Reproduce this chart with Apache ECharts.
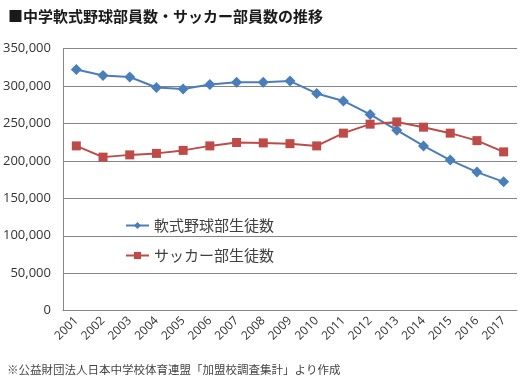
<!DOCTYPE html>
<html><head><meta charset="utf-8">
<script src="https://cdn.jsdelivr.net/npm/echarts@6/dist/echarts.min.js"></script>
<style>html,body{margin:0;padding:0;background:#fff;}#c{width:526px;height:381px;}</style>
</head><body><div id="c"></div>
<script>
const years = ['2001','2002','2003','2004','2005','2006','2007','2008','2009','2010','2011','2012','2013','2014','2015','2016','2017'];
const baseball = [322000,314000,312000,298000,296000,302000,305000,305000,306500,290000,280000,262000,241000,220000,201000,185000,172000];
const soccer = [220000,205000,208000,210000,214000,220000,224500,224000,223000,220000,237000,249000,252000,245000,237000,227000,212000];
const seriesNames = ['軟式野球部生徒数','サッカー部生徒数'];
const titleText = '■中学軟式野球部員数・サッカー部員数の推移';
const noteText = '※公益財団法人日本中学校体育連盟「加盟校調査集計」より作成';

const chart = echarts.init(document.getElementById('c'), null, {renderer:'canvas'});
const ff = '"Noto Sans CJK JP","Noto Sans",sans-serif';
chart.setOption({
  animation:false,
  textStyle:{fontFamily:ff},
  title:[
    {text:titleText,left:3,top:4,textStyle:{fontSize:15,fontWeight:'bold',color:'#1a1a1a',fontFamily:ff}},
    {text:noteText,left:2,top:359,textStyle:{fontSize:11.5,fontWeight:'normal',color:'#444',fontFamily:ff}}
  ],
  grid:{left:62,right:9,top:48.5,bottom:70.3,containLabel:false},
  legend:{
    orient:'vertical',left:120,top:213,itemGap:15,itemWidth:23,itemHeight:9,
    textStyle:{fontSize:15,color:'#404040',fontFamily:ff},
    data:seriesNames
  },
  xAxis:{
    type:'category',data:years,boundaryGap:true,
    axisLine:{lineStyle:{color:'#868686'}},
    axisTick:{show:false},
    axisLabel:{rotate:45,fontSize:12,color:'#333',margin:8,interval:0,fontFamily:'"Open Sans",sans-serif'}
  },
  yAxis:{
    type:'value',min:0,max:350000,interval:50000,
    axisLine:{show:true,lineStyle:{color:'#868686'}},
    axisTick:{show:false},
    splitLine:{lineStyle:{color:'#868686',width:1}},
    axisLabel:{fontSize:13,color:'#333',margin:12,fontFamily:'"Open Sans",sans-serif',
      formatter:v=>v.toLocaleString('en-US')}
  },
  series:[
    {name:seriesNames[0],type:'line',data:baseball,symbol:'diamond',symbolSize:11,
     itemStyle:{color:'#4A7EBB'},lineStyle:{color:'#4A7EBB',width:2}},
    {name:seriesNames[1],type:'line',data:soccer,symbol:'rect',symbolSize:9,
     itemStyle:{color:'#BE4B48'},lineStyle:{color:'#BE4B48',width:2}}
  ]
});
</script></body></html>
